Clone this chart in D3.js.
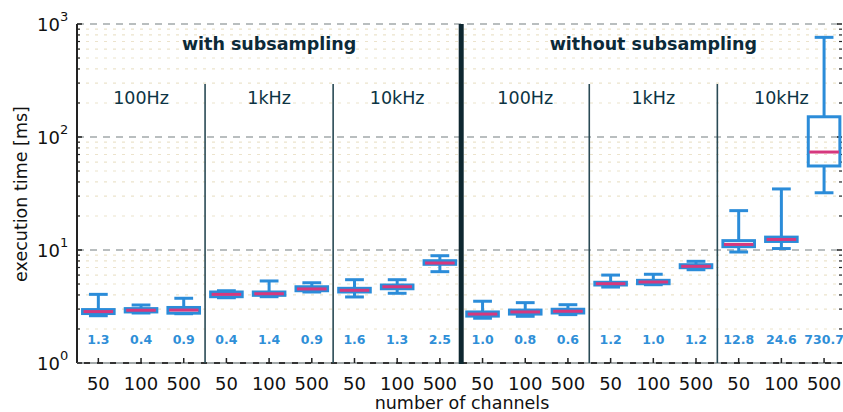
<!DOCTYPE html>
<html lang="en">
<head>
<meta charset="utf-8">
<title></title>
<script src="https://d3js.org/d3.v7.min.js"></script>
<style>
  body { margin: 0; background: #fff; }
  text { font-family: "DejaVu Sans", sans-serif; }
  .tick-label { font-size: 18px; fill: #111; }
  .axis-title { font-size: 17.5px; fill: #111; }
  .group-title { font-size: 17.5px; font-weight: bold; fill: #0c2a38; }
  .rate-title { font-size: 17.5px; fill: #0c3444; }
  .val-label { font-size: 12.5px; font-weight: bold; fill: #2f8fd8; }
</style>
</head>
<body>
<svg width="843" height="412"></svg>
<script>
// channel counts repeated for each sampling rate
var channels = ["50", "100", "500", "50", "100", "500", "50", "100", "500",
                "50", "100", "500", "50", "100", "500", "50", "100", "500"];
var rates = ["100Hz", "1kHz", "10kHz", "100Hz", "1kHz", "10kHz"];
var modes = ["with subsampling", "without subsampling"];

// box statistics in ms
var whiskerLow = [2.62, 2.77, 2.73, 3.78, 3.86, 4.25, 3.84, 4.14, 6.43,
                  2.49, 2.59, 2.68, 4.70, 4.93, 6.69, 9.6, 10.3, 32.1];
var q1 =         [2.74, 2.83, 2.76, 3.86, 3.97, 4.36, 4.25, 4.54, 7.47,
                  2.60, 2.71, 2.77, 4.90, 5.03, 6.97, 10.7, 11.9, 55.4];
var median =     [2.85, 2.93, 2.94, 4.05, 4.10, 4.52, 4.40, 4.73, 7.67,
                  2.71, 2.83, 2.87, 5.03, 5.21, 7.17, 11.2, 12.4, 73.6];
var q3 =         [2.97, 3.03, 3.10, 4.25, 4.25, 4.73, 4.58, 4.90, 8.04,
                  2.83, 2.94, 2.99, 5.18, 5.39, 7.41, 12.1, 13.0, 151];
var whiskerHigh =[4.05, 3.26, 3.74, 4.36, 5.32, 5.13, 5.46, 5.46, 8.9,
                  3.52, 3.42, 3.28, 6.00, 6.10, 7.94, 22.3, 34.7, 762];
var valueLabels = ["1.3", "0.4", "0.9", "0.4", "1.4", "0.9", "1.6", "1.3", "2.5",
                   "1.0", "0.8", "0.6", "1.2", "1.0", "1.2", "12.8", "24.6", "730.7"];
var yTicks = [1, 10, 100, 1000];

var svg = d3.select("svg");
var pLeft = 77, pRight = 842, pTop = 24, pBottom = 363;

var x = d3.scaleLinear().domain([0.5, 18.42]).range([pLeft, pRight]);
var y = d3.scaleLog().domain([1, 1000]).range([pBottom, pTop]);
var step = x(2) - x(1);

var blue = "#2b8cd9", pink = "#d6387e";

// minor grid
var minor = [];
for (var d = 1; d < 1000; d *= 10)
  for (var m = 2; m <= 9; m++) minor.push(d * m);

var grid = svg.append("g");
grid.selectAll(".minor").data(minor).enter().append("line")
  .attr("x1", pLeft).attr("x2", pRight)
  .attr("y1", d => y(d)).attr("y2", d => y(d))
  .attr("stroke", "#ece3cc").attr("stroke-width", 1.2)
  .attr("stroke-dasharray", "3,6");

// axes lines
svg.append("line").attr("x1", pLeft).attr("x2", pRight).attr("y1", pBottom).attr("y2", pBottom)
  .attr("stroke", "#333").attr("stroke-width", 2);
svg.append("line").attr("x1", pLeft).attr("x2", pLeft).attr("y1", pTop).attr("y2", pBottom)
  .attr("stroke", "#222").attr("stroke-width", 2);

grid.selectAll(".major").data(yTicks).enter().append("line")
  .attr("x1", pLeft).attr("x2", pRight)
  .attr("y1", d => y(d)).attr("y2", d => y(d))
  .attr("stroke", "#a3a9aa").attr("stroke-width", 1.3)
  .attr("stroke-dasharray", "7,6");
svg.append("line").attr("x1", pLeft).attr("x2", pRight).attr("y1", pBottom).attr("y2", pBottom)
  .attr("stroke", "#a3a9aa").attr("stroke-width", 2)
  .attr("stroke-dasharray", "7,6");

// y ticks left and right
[pLeft, pRight].forEach(function(ax) {
  var dir = ax === pLeft ? 1 : -1;
  svg.selectAll(null).data(yTicks).enter().append("line")
    .attr("x1", ax).attr("x2", ax + dir * 5)
    .attr("y1", d => y(d)).attr("y2", d => y(d))
    .attr("stroke", "#222").attr("stroke-width", 1.5);
  svg.selectAll(null).data(minor).enter().append("line")
    .attr("x1", ax).attr("x2", ax + dir * 3)
    .attr("y1", d => y(d)).attr("y2", d => y(d))
    .attr("stroke", "#222").attr("stroke-width", 1.2);
});

// y tick labels
var yl = svg.selectAll(".ylab").data(yTicks).enter().append("text")
  .attr("class", "tick-label")
  .attr("x", 37).attr("y", d => y(d) + 7);
yl.append("tspan").text("10");
yl.append("tspan").attr("dy", -10).attr("font-size", 13).text(d => Math.round(Math.log10(d)));

// x ticks and labels
svg.selectAll(".xt").data(channels).enter().append("line")
  .attr("x1", (d, i) => x(i + 1)).attr("x2", (d, i) => x(i + 1))
  .attr("y1", pBottom).attr("y2", pBottom - 5)
  .attr("stroke", "#222").attr("stroke-width", 1.5);
svg.selectAll(".xl").data(channels).enter().append("text")
  .attr("class", "tick-label").attr("text-anchor", "middle")
  .attr("x", (d, i) => x(i + 1)).attr("y", 390)
  .text(d => d);

// group separators
[3.5, 6.5, 12.5, 15.5].forEach(function(p) {
  svg.append("line").attr("x1", x(p)).attr("x2", x(p)).attr("y1", 84).attr("y2", pBottom)
    .attr("stroke", "#2a4a55").attr("stroke-width", 1.6);
});
svg.append("line").attr("x1", x(9.5)).attr("x2", x(9.5)).attr("y1", pTop).attr("y2", pBottom + 1)
  .attr("stroke", "#0e2730").attr("stroke-width", 5);

// titles
svg.selectAll(".gt").data(modes).enter().append("text")
  .attr("class", "group-title").attr("text-anchor", "middle")
  .attr("x", (d, i) => i === 0 ? (x(0.5) + x(9.5)) / 2 : (x(9.5) + x(18.5)) / 2)
  .attr("y", 50).text(d => d);
svg.selectAll(".rt").data(rates).enter().append("text")
  .attr("class", "rate-title").attr("text-anchor", "middle")
  .attr("x", (d, i) => x(i * 3 + 2)).attr("y", 104).text(d => d);

// boxes
var bw = step * 0.74, cw = step * 0.44;
var boxes = svg.selectAll(".box").data(median).enter().append("g")
  .attr("transform", (d, i) => `translate(${x(i + 1)},0)`);
boxes.append("line")
  .attr("y1", (d, i) => y(whiskerLow[i])).attr("y2", (d, i) => y(q1[i]))
  .attr("stroke", blue).attr("stroke-width", 3);
boxes.append("line")
  .attr("y1", (d, i) => y(q3[i])).attr("y2", (d, i) => y(whiskerHigh[i]))
  .attr("stroke", blue).attr("stroke-width", 3);
boxes.append("line")
  .attr("x1", -cw / 2).attr("x2", cw / 2)
  .attr("y1", (d, i) => y(whiskerLow[i])).attr("y2", (d, i) => y(whiskerLow[i]))
  .attr("stroke", blue).attr("stroke-width", 3);
boxes.append("line")
  .attr("x1", -cw / 2).attr("x2", cw / 2)
  .attr("y1", (d, i) => y(whiskerHigh[i])).attr("y2", (d, i) => y(whiskerHigh[i]))
  .attr("stroke", blue).attr("stroke-width", 3);
boxes.append("rect")
  .attr("x", -bw / 2).attr("width", bw)
  .attr("y", (d, i) => y(q3[i])).attr("height", (d, i) => y(q1[i]) - y(q3[i]))
  .attr("fill", "none").attr("stroke", blue).attr("stroke-width", 3);
boxes.append("line")
  .attr("x1", -bw / 2 + 1).attr("x2", bw / 2 - 1)
  .attr("y1", d => y(d)).attr("y2", d => y(d))
  .attr("stroke", pink).attr("stroke-width", 3);

// value labels
svg.selectAll(".vl").data(valueLabels).enter().append("text")
  .attr("class", "val-label").attr("text-anchor", "middle")
  .attr("x", (d, i) => x(i + 1)).attr("y", 344).text(d => d);

// axis titles
svg.append("text").attr("class", "axis-title").attr("text-anchor", "middle")
  .attr("x", 462).attr("y", 409).text("number of channels");
svg.append("text").attr("class", "axis-title").attr("text-anchor", "middle")
  .attr("transform", "translate(27,194) rotate(-90)").text("execution time [ms]");
</script>
</body>
</html>
